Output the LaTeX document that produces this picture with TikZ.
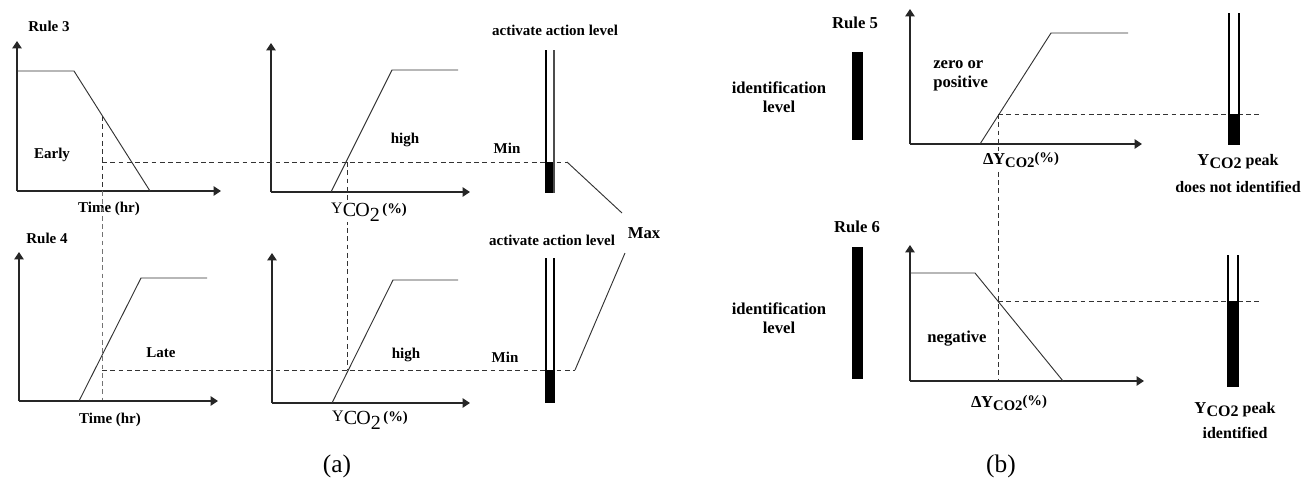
\documentclass[tikz,border=0pt]{standalone}
\usepackage{fontspec}
\setmainfont{Liberation Serif}
\usetikzlibrary{arrows.meta}
\newcommand{\YCOleft}{{\fontsize{12}{12}\selectfont\raisebox{0.45ex}{Y}}{\fontsize{15}{15}\selectfont C\kern-0.5pt O\raisebox{-0.45ex}{2}}\,{\fontsize{11}{11}\selectfont\bfseries\raisebox{0.55ex}{(\%)}}}
\newcommand{\DYCO}{{\fontsize{12.5}{12}\selectfont\bfseries Δ\kern-0.3pt Y\raisebox{-0.4ex}{\fontsize{11}{11}\selectfont CO2}\raisebox{0.35ex}{\fontsize{11}{11}\selectfont(\%)}}}
\newcommand{\YCOpeak}{{\fontsize{12.5}{12}\selectfont\bfseries Y\raisebox{-0.4ex}{\fontsize{12}{12}\selectfont CO2} {\fontsize{12}{12}\selectfont peak}}}
\begin{document}
\begin{tikzpicture}[x=0.75pt,y=-0.75pt,
  axis/.style={draw=black!85,line width=0.95pt,-{Triangle[length=5.5pt,width=7pt]}},
  curve/.style={draw=black!80,line width=0.7pt},
  dsh/.style={draw=black!80,line width=0.7pt,dash pattern=on 3.6pt off 2.6pt},
  tube/.style={draw=black,line width=0.9pt},
  lab/.style={font=\bfseries\fontsize{11.25}{13}\selectfont,inner sep=0pt},
  rlab/.style={font=\bfseries\fontsize{12.5}{14.5}\selectfont,inner sep=0pt,align=center},
  captxt/.style={font=\fontsize{19}{22}\selectfont,inner sep=0pt}]
\useasboundingbox (0,0) rectangle (1305,482);

% ---------------- (a) Rule 3 ----------------
\node[lab] (r3) at (49,26) {Rule 3};
\coordinate (o1) at (17,191);
\draw[axis] (o1) -- (17,41);
\draw[axis] (o1) -- (221,191);
\draw[curve] (17,71) -- (74,71) -- (150,191);
\node[lab] (early) at (52,155) {Early};
\node[lab] (t1) at (109,209) {Time (hr)};

\coordinate (o2) at (271,192);
\draw[axis] (o2) -- (271,43);
\draw[axis] (o2) -- (470,192);
\draw[curve] (331,192) -- (392,70) -- (458,70);
\node[lab] (high1) at (405,140) {high};
\node[lab] (min1) at (507,148) {Min};
\node[lab] (act1) at (555,30) {activate action level};

% dashed guides
\coordinate (d1a) at (102,116);
\coordinate (d1m) at (102,191);
\coordinate (d1b) at (102,401);
\draw[dsh] (d1a) -- (d1m);
\draw[dsh,draw=black!55] (d1m) -- (d1b);
\coordinate (d2a) at (347,162);
\coordinate (d2b) at (347,370);
\draw[dsh] (d2a) -- (d2b);
\coordinate (h1a) at (102,162);
\coordinate (h1b) at (567,162);
\draw[dsh] (h1a) -- (h1b);
\node[font=\fontsize{11.25}{13}\selectfont,fill=white,inner sep=0.5pt] (y1) at (369,212) {\YCOleft};

% tube 1
\fill[black] (546,162) rectangle (554,193);
\draw[tube] (546,50) -- (546,193);
\draw[tube,draw=black!70] (554,50) -- (554,193);

% ---------------- (a) Rule 4 ----------------
\node[lab] (r4) at (47,238) {Rule 4};
\coordinate (o3) at (19,401);
\draw[axis] (o3) -- (19,252);
\draw[axis] (o3) -- (218,401);
\draw[curve] (79,401) -- (141,278) -- (207,278);
\node[lab] (late) at (161,353) {Late};
\node[lab] (t2) at (110,420) {Time (hr)};

\coordinate (o4) at (272,403);
\draw[axis] (o4) -- (272,253);
\draw[axis] (o4) -- (470,403);
\draw[curve] (332,403) -- (393,280) -- (458,280);
\node[lab] (high2) at (406,355) {high};
\node[lab] (min2) at (505,357) {Min};
\node[lab] (act2) at (552,240) {activate action level};
\node[font=\fontsize{11.25}{13}\selectfont,inner sep=0.5pt] (y2) at (370,420) {\YCOleft};

\coordinate (h2a) at (102,370);
\coordinate (h2b) at (575,370);
\draw[dsh] (h2a) -- (h2b);

% tube 2
\fill[black] (546,370) rectangle (554,403);
\draw[tube] (546,258) -- (546,403);
\draw[tube] (554,258) -- (554,403);

% Max connectors
\node[lab,font=\bfseries\fontsize{12.5}{14}\selectfont] (max) at (644,233) {Max};
\coordinate (m1) at (622,213);
\coordinate (m2) at (625,253);
\draw[curve] (h1b) -- (m1);
\draw[curve] (h2b) -- (m2);

\node[captxt] (capa) at (337,466) {(a)};

% ---------------- (b) Rule 5 ----------------
\node[rlab] (r5) at (855,23) {Rule 5};
\fill[black] (852,52) rectangle (863,140);
\node[rlab] (id1) at (779,97) {identification\\level};
\coordinate (o5) at (910,144);
\draw[axis] (o5) -- (910,9);
\draw[axis] (o5) -- (1142,144);
\draw[curve] (980,144) -- (1051,33) -- (1128,33);
\node[rlab,align=left,anchor=west] (zp) at (933,76) {zero or\\positive};

\coordinate (d3a) at (998,114);
\coordinate (d3b) at (998,381);
\draw[dsh] (d3a) -- (d3b);
\coordinate (h3b) at (1262,114);
\draw[dsh] (d3a) -- (h3b);
\node[fill=white,inner sep=0.5pt] (dy1) at (1021,160) {\DYCO};

\fill[black] (1229,114) rectangle (1239,145);
\draw[tube] (1229,13) -- (1229,145);
\draw[tube] (1239,13) -- (1239,145);
\node[inner sep=0pt] (pk1) at (1238,162) {\YCOpeak};
\node[rlab,font=\bfseries\fontsize{12}{14}\selectfont] (pk1b) at (1238,187) {does not identified};

% ---------------- (b) Rule 6 ----------------
\node[rlab] (r6) at (857,227) {Rule 6};
\fill[black] (852,247) rectangle (863,379);
\node[rlab] (id2) at (779,318) {identification\\level};
\coordinate (o6) at (910,381);
\draw[axis] (o6) -- (910,245);
\draw[axis] (o6) -- (1144,381);
\draw[curve] (910,273) -- (975,273) -- (1063,381);
\node[rlab] (neg) at (957,339) {negative};

\coordinate (h4a) at (998,301);
\coordinate (h4b) at (1262,301);
\draw[dsh] (h4a) -- (h4b);
\node[inner sep=0.5pt] (dy2) at (1009,403) {\DYCO};

\fill[black] (1228,301) rectangle (1238,387);
\draw[tube] (1228,255) -- (1228,387);
\draw[tube] (1238,255) -- (1238,387);
\node[inner sep=0pt] (pk2) at (1235,410) {\YCOpeak};
\node[rlab,font=\bfseries\fontsize{12}{14}\selectfont] (pk2b) at (1235,433) {identified};

\node[captxt] (capb) at (1001,466) {(b)};
\end{tikzpicture}
\end{document}
